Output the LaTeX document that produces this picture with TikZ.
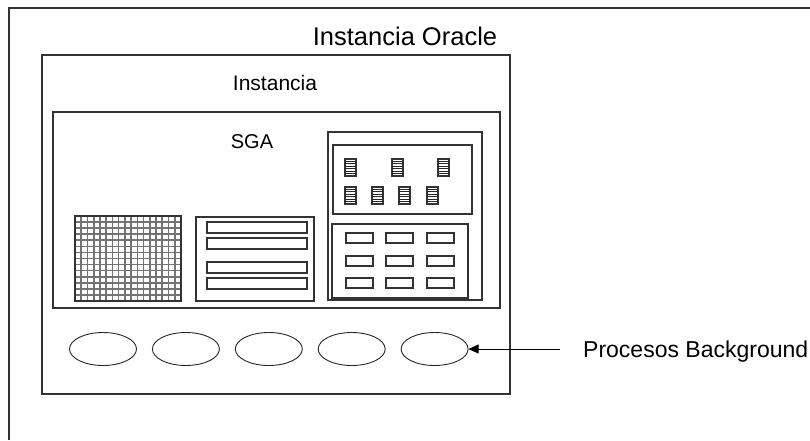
\documentclass[tikz,border=0pt]{standalone}
\usepackage{fontspec}
\setmainfont{Liberation Sans}
\usetikzlibrary{positioning, shapes.geometric, arrows.meta}

\begin{document}
\begin{tikzpicture}[
            x=1pt, y=-1pt,
            rahmen/.style={
                    draw=black!80,
                    line width=1.4pt
                },
            kasten/.style={
                    draw=black!80,
                    line width=1.1pt
                },
            gitter/.style={
                    draw=black!55,
                    line width=1.6pt
                },
            streifen/.style={
                    draw=black!85,
                    line width=0.8pt
                },
            prozess/.style={
                    draw=black!85,
                    ellipse,
                    minimum width=67pt,
                    minimum height=33pt,
                    inner sep=0pt,
                    line width=0.9pt
                },
            pfeil/.style={
                    draw,
                    -{Triangle[length=10pt, width=9pt]},
                    line width=0.9pt,
                    shorten <=23pt
                },
            beschriftung/.style={
                    inner sep=0pt,
                    text depth=0pt
                }
        ]

        \useasboundingbox (0,0) rectangle (810,440);

        % Rahmen und Titel
        \draw[rahmen] (9,440) -- (9,8) -- (810,8);
        \node[beschriftung, font=\fontsize{25.5}{30}\selectfont] (oracle) at (405,36) {Instancia Oracle};

        \draw[kasten] (42,55) rectangle (510,394);
        \node[beschriftung, font=\fontsize{21}{24}\selectfont] (instanz) at (275,83) {Instancia};

        % SGA
        \draw[kasten] (53,112) rectangle (500,308);
        \node[beschriftung, font=\fontsize{20}{24}\selectfont] (sga) at (252,142) {SGA};

        % Gitter
        \foreach \i in {1,...,16}
            \draw[gitter] ({75+\i*106/17},216) -- ++(0,85);
        \foreach \j in {1,...,13}
            \draw[gitter] (75,{216+\j*85/14}) -- ++(106,0);
        \draw[kasten] (75,216) rectangle (181,301);

        % Puffer
        \draw[kasten] (196,217) rectangle (314,301);
        \foreach \y in {222,238,262,278}
            \draw[kasten, line width=1.4pt] (207,\y) rectangle ++(100,11);

        % rechter Bereich
        \draw[kasten] (328,132) rectangle (482,300);
        \draw[kasten] (333,145) rectangle (472,214);
        \draw[kasten] (332,224) rectangle (468,298);

        \foreach \x in {345,392,438} {
            \draw[kasten, line width=1.4pt] (\x,159) rectangle ++(11,17);
            \foreach \s in {1,...,6}
                \draw[streifen] (\x,{159+\s*17/7}) -- ++(11,0);
        }
        \foreach \x in {345,372,399,427} {
            \draw[kasten, line width=1.4pt] (\x,187) rectangle ++(11,17);
            \foreach \s in {1,...,6}
                \draw[streifen] (\x,{187+\s*17/7}) -- ++(11,0);
        }

        \foreach \x in {346,386,427}
            \foreach \y in {233,256,278}
                \draw[kasten, line width=1.3pt] (\x,\y) rectangle ++(27,10);

        % Prozesse
        \node[prozess] (proc1) at (103,349) {};
        \node[prozess, right=15pt of proc1] (proc2) {};
        \node[prozess, right=15pt of proc2] (proc3) {};
        \node[prozess, right=15pt of proc3] (proc4) {};
        \node[prozess, right=15pt of proc4] (proc5) {};

        \node[beschriftung, anchor=west, font=\fontsize{23}{28}\selectfont] (hintergrund) at (583,349) {Procesos Background};
        \draw[pfeil] (hintergrund.west) -- (proc5.east);

    \end{tikzpicture}
\end{document}
